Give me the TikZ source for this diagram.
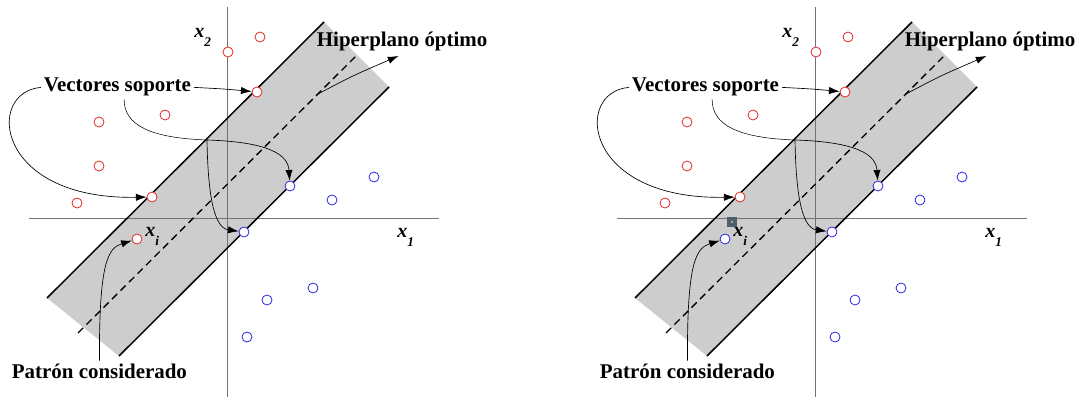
\documentclass[tikz,border=0pt]{standalone}
\usepackage{fontspec}
\setmainfont{Liberation Serif}
\usetikzlibrary{arrows.meta}
\definecolor{bandgray}{RGB}{205,205,205}
\definecolor{ptred}{RGB}{228,40,40}
\definecolor{ptblue}{RGB}{40,40,225}
\definecolor{markc}{RGB}{80,96,106}
\newcommand\axsub[1]{\raisebox{-6.5pt}{\fontsize{10}{10}\selectfont #1}}

\begin{document}
\begin{tikzpicture}[x=0.75pt,y=-0.75pt,
  lbl/.style={font=\fontsize{15.7}{18}\selectfont\bfseries,inner sep=2pt,anchor=base west},
  axlab/.style={font=\fontsize{15}{17}\selectfont\bfseries\itshape,inner sep=0pt,anchor=base west},
  sample/.style={circle,draw=#1,fill=white,line width=0.6pt,minimum size=7.5pt,inner sep=0pt},
  sample/.default=ptred,
  arr/.style={-{Latex[length=8pt,width=5.5pt]},line width=0.5pt},
  axisline/.style={black!55,line width=0.6pt},
  bandline/.style={line width=1.1pt},
  hyper/.style={line width=1pt,dash pattern=on 5.5pt off 3.5pt},
  marksq/.style={rectangle,fill=markc,minimum size=7pt,inner sep=0pt,
    path picture={\fill[white!60!markc] (path picture bounding box.center) circle (0.8pt);}}]
\useasboundingbox (0,0) rectangle (1075,399);
\foreach \s/\dx/\xc in {a/0/ptred,b/588/ptblue}{
\begin{scope}[shift={(\dx,0)}]
% margin band and axes
\fill[bandgray] (47,298) -- (324,22) -- (389,87) -- (119,356) -- cycle;
\draw[axisline] (227,7) -- (227,397);
\draw[axisline] (29,218) -- (439,218);
\draw[bandline] (47,298) -- (324,22);
\draw[bandline] (119,356) -- (389,87);
\draw[hyper] (78,333) -- (357,55);
\node[axlab] (x2\s) at (194,38) {x\axsub{2}};
\node[axlab] (x1\s) at (397,238) {x\axsub{\itshape 1}};
\node[axlab] (xl\s) at (145,237) {x\axsub{\itshape i}};
% samples
\foreach \px/\py [count=\i] in {228/52,260/37,99/122,165/115,99/166,77/203}
  \node[sample] (r\i\s) at (\px,\py) {};
\foreach \px/\py [count=\i] in {374/177,332/200,313/288,267/300,247/337}
  \node[sample=ptblue] (b\i\s) at (\px,\py) {};
\node[sample] (sv1\s) at (257,92) {};
\node[sample] (sv2\s) at (152,197) {};
\node[sample=ptblue] (sv3\s) at (290,186) {};
\node[sample=ptblue] (sv4\s) at (244,232) {};
\node[sample=\xc] (xi\s) at (137,239) {};
% labels
\node[lbl] (hip\s) at (314,47) {Hiperplano óptimo};
\node[lbl] (vs\s) at (41,92) {Vectores soporte};
\node[lbl] (pat\s) at (9,378) {Patrón considerado};
\coordinate (j\s) at (207,140);
\coordinate (h\s) at (318,94);
% connectors
\draw[arr] (vs\s.east) .. controls (225,89) .. (sv1\s);
\draw[arr] (vs\s.west) .. controls (-15,92) and (-5,200) .. (sv2\s);
\draw ([xshift=5pt]vs\s.south) .. controls (124,125) and (150,138) .. (j\s);
\draw[arr] (j\s) .. controls (270,142) and (288,155) .. (sv3\s);
\draw[arr] (j\s) .. controls (208,200) and (215,228) .. (sv4\s);
\draw[arr,shorten >=3pt] (h\s) .. controls (352,76) .. (hip\s.south);
\draw[arr] (pat\s.north) .. controls (99,262) and (108,248) .. (xi\s);
\end{scope}}
\node[marksq] (sq) at (732,222) {};
\end{tikzpicture}
\end{document}
